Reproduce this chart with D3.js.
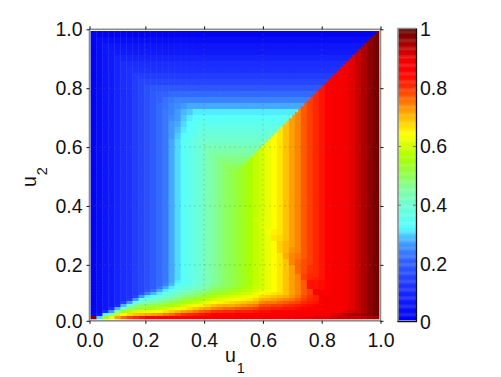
<!DOCTYPE html>
<html>
<head>
<meta charset="utf-8">
<script src="https://cdnjs.cloudflare.com/ajax/libs/d3/7.8.5/d3.min.js"></script>
<style>
  body { margin: 0; background: #fff; }
  text { font-family: "Liberation Sans", Arial, sans-serif; fill: #111; }
</style>
</head>
<body>
<div class="chart"></div>
<script>
// Values, in percent. Rows run from u2 = 1 down to u2 = 0.
var tickValues = [0.01, 0.2, 0.4, 0.6, 0.8, 1];
var xTickLabels = ["0.0", "0.2", "0.4", "0.6", "0.8", "1.0"];
var barTickValues = [0, 0.2, 0.4, 0.6, 0.8, 1];
var barTickLabels = ["0", "0.2", "0.4", "0.6", "0.8", "1"];

// colormap
var colorStops = [0, 0.1, 0.2, 0.25, 0.28, 0.32, 0.4, 0.45, 0.5, 0.56, 0.64, 0.72, 0.8, 0.85, 0.9, 1];
var colorValues = ["#0000f0", "#1a2cff", "#3060ff", "#3c8cff", "#48b8ff", "#55ffff", "#70ffd0", "#80ffa0", "#90ff50", "#aaff00", "#ffff00", "#ffa000", "#ff3000", "#ff0000", "#f00000", "#660000"];

// row height in grid units: the wedge at the bottom is read at double resolution
var coarseRows = 40;
var fineRows = 16;

var midRow = [1,3,5,6,8,10,11,13,15,17,19,21,23,27,30,33,35,38,40,43,45,47,49,50,52,54,56,58,60,62,64,66,69,72,74,77,79,81,83,85,87,88,89,91,93,95,97,99];

var upperRows = [
[1,1,1,1,1,1,1,1,1,1,1,1,1,1,1,1,1,1,1,1,1,1,1,1,1,1,1,1,1,1,1,1,1,1,1,1,1,1,1,1,1,1,1,1,1,1,1,99],
[1,3,3,3,3,3,3,3,3,3,3,3,3,3,3,3,3,3,3,3,3,3,3,3,3,3,3,3,3,3,3,3,3,3,3,3,3,3,3,3,3,3,3,3,3,3,97,99],
[1,3,5,5,5,5,5,5,5,5,5,5,5,5,5,5,5,5,5,5,5,5,5,5,5,5,5,5,5,5,5,5,5,5,5,5,5,5,5,5,5,5,5,5,5,95,97,99],
[1,3,5,6,6,6,6,6,6,6,6,6,6,6,6,6,6,6,6,6,6,6,6,6,6,6,6,6,6,6,6,6,6,6,6,6,6,6,6,6,6,6,6,6,93,95,97,99],
[1,3,5,6,8,8,8,8,8,8,8,8,8,8,8,8,8,8,8,8,8,8,8,8,8,8,8,8,8,8,8,8,8,8,8,8,8,8,8,8,8,8,8,91,93,95,97,99],
[1,3,5,6,8,10,10,10,10,10,10,10,10,10,10,10,10,10,10,10,10,10,10,10,10,10,10,10,10,10,10,10,10,10,10,10,10,10,10,10,10,10,89,91,93,95,97,99],
[1,3,5,6,8,10,11,11,11,11,11,11,11,11,11,11,11,11,11,11,11,11,11,11,11,11,11,11,11,11,11,11,11,11,11,11,11,11,11,11,11,88,89,91,93,95,97,99],
[1,3,5,6,8,10,11,13,13,13,13,13,13,13,13,13,13,13,13,13,13,13,13,13,13,13,13,13,13,13,13,13,13,13,13,13,13,13,13,13,87,88,89,91,93,95,97,99],
[1,3,5,6,8,10,11,13,15,15,15,15,15,15,15,15,15,15,15,15,15,15,15,15,15,15,15,15,15,15,15,15,15,15,15,15,15,15,15,85,87,88,89,91,93,95,97,99],
[1,3,5,6,8,10,11,13,15,17,18,18,18,18,18,18,18,18,18,18,18,18,18,18,18,18,18,18,18,18,18,18,18,18,18,18,18,18,83,85,87,88,89,91,93,95,97,99],
[1,3,5,6,8,10,11,13,15,17,19,20,20,21,21,21,21,21,21,21,21,21,21,21,21,21,21,21,21,21,21,21,21,21,21,21,21,81,83,85,87,88,89,91,93,95,97,99],
[1,3,5,6,8,10,11,13,15,17,19,20,22,23,24,24,24,24,24,24,24,24,24,24,24,24,24,24,24,24,24,24,24,24,24,24,79,81,83,85,87,88,89,91,93,95,97,99],
[1,3,5,6,8,10,11,13,15,17,19,21,22,24,25,26,27,27,27,27,27,27,27,27,27,27,27,27,27,27,27,27,27,27,27,77,79,81,83,85,87,88,89,91,93,95,97,99],
[1,3,5,6,8,10,11,13,15,17,19,21,23,24,26,28,29,31,31,31,31,31,31,31,31,31,31,31,31,31,31,31,31,31,74,77,79,81,83,85,87,88,89,91,93,95,97,99],
[1,3,5,6,8,10,11,13,15,17,19,21,23,25,26,29,31,33,33,33,33,33,33,33,33,33,33,33,33,33,33,33,33,72,74,77,79,81,83,85,87,88,89,91,93,95,97,99],
[1,3,5,6,8,10,11,13,15,17,19,21,23,26,27,30,32,34,35,35,35,35,35,35,35,35,35,35,35,35,35,35,69,72,74,77,79,81,83,85,87,88,89,91,93,95,97,99],
[1,3,5,6,8,10,11,13,15,17,19,21,23,26,28,31,33,35,37,37,37,37,37,37,37,37,37,37,37,37,37,66,69,72,74,77,79,81,83,85,87,88,89,91,93,95,97,99],
[1,3,5,6,8,10,11,13,15,17,19,21,23,26,29,32,34,36,38,39,39,39,39,39,39,39,39,39,39,39,64,66,69,72,74,77,79,81,83,85,87,88,89,91,93,95,97,99],
[1,3,5,6,8,10,11,13,15,17,19,21,23,27,30,33,35,38,40,41,41,41,41,41,41,41,41,41,41,62,64,66,69,72,74,77,79,81,83,85,87,88,89,91,93,95,97,99],
[1,3,5,6,8,10,11,13,15,17,19,21,23,27,30,33,35,38,40,43,43,43,43,43,43,43,43,43,60,62,64,66,69,72,74,77,79,81,83,85,87,88,89,91,93,95,97,99],
[1,3,5,6,8,10,11,13,15,17,19,21,23,27,30,33,35,38,40,43,45,45,45,45,45,45,45,58,60,62,64,66,69,72,74,77,79,81,83,85,87,88,89,91,93,95,97,99],
[1,3,5,6,8,10,11,13,15,17,19,21,23,27,30,33,35,38,40,43,45,47,47,47,47,47,56,58,60,62,64,66,69,72,74,77,79,81,83,85,87,88,89,91,93,95,97,99],
[1,3,5,6,8,10,11,13,15,17,19,21,23,27,30,33,35,38,40,43,45,47,49,49,49,54,56,58,60,62,64,66,69,72,74,77,79,81,83,85,87,88,89,91,93,95,97,99],
midRow, midRow, midRow, midRow, midRow, midRow, midRow, midRow,
[1,3,5,6,8,10,11,13,15,17,19,21,23,27,30,33,35,38,40,43,45,47,49,50,52,54,56,59,60,62,64,66,69,72,74,77,79,81,83,85,87,88,89,91,93,95,97,99],
[1,3,5,6,8,10,11,13,15,17,19,21,23,27,30,33,35,38,40,43,45,47,49,50,52,54,56,58,61,62,64,66,69,72,74,77,79,81,83,85,87,88,89,91,93,95,97,99],
[1,3,5,6,8,10,11,13,15,17,19,21,23,27,30,33,35,38,40,43,45,47,49,50,52,54,56,58,60,63,65,66,69,72,74,77,79,81,83,85,87,88,89,91,93,95,97,99],
[1,3,5,6,8,10,11,13,15,17,19,21,23,27,30,33,35,38,40,43,45,47,49,50,52,54,56,58,60,62,66,67,69,72,74,77,79,81,83,85,87,88,89,91,93,95,97,99],
[1,3,5,6,8,10,11,13,15,17,19,21,23,27,30,33,35,38,40,43,45,47,49,50,52,54,56,58,60,62,64,68,70,72,74,77,79,81,83,85,87,88,89,91,93,95,97,99],
[1,3,5,6,8,10,11,13,15,17,19,21,23,27,30,33,35,38,40,43,45,47,49,50,52,54,56,58,60,62,64,68,70,73,74,77,79,81,83,85,87,88,89,91,93,95,97,99],
[1,3,5,6,8,10,11,13,15,17,19,21,23,27,30,33,35,38,40,43,45,47,49,50,52,54,56,58,60,62,64,66,71,74,75,77,79,81,83,85,87,88,89,91,93,95,97,99],
[1,3,5,6,8,10,11,13,15,17,19,21,23,27,30,33,35,38,40,43,45,47,49,50,52,54,56,58,60,62,64,66,69,74,76,78,79,81,83,85,87,88,89,91,93,95,97,99],
[1,3,5,6,8,10,11,13,15,17,19,21,23,27,30,33,35,38,40,43,45,47,49,50,52,54,56,58,60,62,64,66,69,72,76,78,80,81,83,85,87,88,89,91,93,95,97,99]
];

var wedgeRows = [
[1,3,5,6,8,10,11,13,15,17,19,21,23,27,30,33,35,38,40,43,45,47,49,50,52,54,56,58,60,62,64,66,69,72,76,78,80,81,83,85,87,88,89,91,93,95,97,99],
[1,3,5,6,8,10,11,13,15,17,19,21,23,27,30,33,35,38,40,43,45,47,49,50,52,54,56,58,60,62,64,66,69,72,74,79,81,81,83,85,87,88,89,91,93,95,97,99],
[1,3,5,6,8,10,11,13,15,17,19,21,23,27,30,33,35,38,40,43,45,47,49,50,52,54,56,58,60,62,64,66,69,72,74,79,81,82,83,85,87,88,89,91,93,95,97,99],
[1,3,5,6,8,10,11,13,15,17,19,21,23,27,31,33,35,38,40,43,45,47,49,50,52,54,56,58,60,62,64,66,69,72,74,77,83,83,84,85,87,88,89,91,93,95,97,99],
[1,3,5,6,8,10,11,13,15,17,19,21,24,28,32,35,36,38,41,43,46,47,49,50,52,54,56,58,60,62,64,66,69,72,74,77,83,83,84,85,87,88,89,91,93,95,97,99],
[1,3,5,6,8,10,11,13,15,17,19,23,27,31,35,37,39,41,42,45,48,49,50,51,53,55,57,59,60,62,64,66,69,72,74,77,83,83,84,85,87,88,89,91,93,95,97,99],
[1,3,5,6,8,10,11,13,15,18,22,27,31,34,38,40,42,44,45,48,50,51,52,54,55,57,58,60,62,63,64,66,69,72,74,77,79,85,86,86,87,88,89,91,93,95,97,99],
[1,3,5,6,8,10,11,13,17,24,28,31,36,38,41,43,45,47,48,50,53,54,55,57,58,59,60,62,64,65,66,67,69,72,74,77,79,85,86,86,87,88,89,91,93,95,97,99],
[1,3,5,6,8,10,11,15,26,31,34,37,40,42,45,47,49,50,52,54,57,58,59,60,61,62,63,65,67,68,69,70,71,73,75,78,80,82,87,87,87,88,89,91,93,95,97,99],
[1,3,5,6,8,10,13,26,34,38,40,42,44,46,48,51,52,54,56,58,60,61,62,63,64,65,66,68,70,71,72,73,74,75,77,79,81,82,87,87,87,88,89,91,93,95,97,99],
[1,3,5,6,8,14,26,36,42,44,46,47,49,51,53,55,57,58,60,62,64,65,66,67,68,69,70,71,74,75,75,76,77,78,79,81,82,83,87,87,87,88,89,91,93,95,97,99],
[1,3,5,6,10,28,38,45,48,50,51,52,54,55,57,60,62,63,65,67,69,70,71,71,72,73,74,75,78,78,79,79,80,81,82,83,84,85,85,87,88,88,89,91,93,95,97,99],
[1,3,5,10,28,42,48,52,54,55,56,58,59,61,63,65,67,69,71,72,74,75,76,76,77,78,78,79,81,81,82,82,83,83,84,85,86,86,86,87,88,88,89,91,93,95,97,99],
[1,3,10,26,45,53,57,60,61,62,63,64,66,68,70,72,73,75,77,78,80,80,81,81,82,82,82,83,84,84,85,85,85,86,86,87,87,88,88,88,90,90,91,92,93,95,97,99],
[1,6,32,45,60,64,67,69,70,71,72,73,75,76,78,80,81,82,83,84,85,85,85,85,86,86,86,86,87,87,87,88,88,88,88,88,89,90,90,90,91,92,94,95,95,96,97,99],
[98,30,55,62,72,76,79,81,83,85,85,86,86,86,87,87,87,87,88,88,88,88,88,88,88,88,88,88,88,89,89,89,89,90,90,90,90,91,91,91,92,93,93,93,93,94,95,96]
];

// value just above the upper diagonal, one per coarse row, read at half a cell
var diagonalValues = [1,3,5,6,8,10,11,13,15,18,21,24,27,31,33,35,37,39,41,43,45,47,49];

var svgWidth = 501;
var svgHeight = 377;

var svg = d3.select(".chart").append("svg")
    .attr("width", svgWidth)
    .attr("height", svgHeight)
    .style("display", "block");

// axes scales run from the first grid point, which the ticks label as 0.0
var xScale = d3.scaleLinear().domain([0.01, 1]).range([89.5, 380.5]);
var yScale = d3.scaleLinear().domain([0.01, 1]).range([320.8, 29.3]);
var barScale = d3.scaleLinear().domain([0, 1]).range([322.5, 29.3]);

var colorRamp = d3.scaleLinear().domain(colorStops).range(colorValues).clamp(true);

// heat map cells
var gridX = d3.scaleLinear().domain([0, midRow.length]).range([90.5, 379]);
var gridY = d3.scaleLinear().domain([0, coarseRows * 2 + fineRows]).range([31, 319]);

var cells = [];
upperRows.forEach(function(row, j) {
    row.forEach(function(v, i) {
        cells.push({ i: i, wide: 1, top: j * 2, span: 2, value: v / 100 });
    });
});
wedgeRows.forEach(function(row, j) {
    row.forEach(function(v, i) {
        cells.push({ i: i, wide: 1, top: coarseRows * 2 + j, span: 1, value: v / 100 });
    });
});
// notch the diagonal cells so the stair steps are half a cell
diagonalValues.forEach(function(v, j) {
    cells.push({ i: midRow.length - 1 - j, wide: 0.5, top: j * 2, span: 1, value: v / 100 });
});

svg.append("g").selectAll("rect")
    .data(cells)
    .enter()
    .append("rect")
    .attr("x", d => gridX(d.i))
    .attr("y", d => gridY(d.top))
    .attr("width", d => gridX(d.i + d.wide) - gridX(d.i) + 0.3)
    .attr("height", d => gridY(d.top + d.span) - gridY(d.top) + 0.3)
    .attr("fill", d => colorRamp(d.value));

// dotted grid
var gridGroup = svg.append("g")
    .attr("stroke", "#666")
    .attr("stroke-opacity", 0.55)
    .attr("stroke-dasharray", "1 4");

gridGroup.selectAll(".gx")
    .data(tickValues.slice(1, 5))
    .enter()
    .append("line")
    .attr("x1", d => xScale(d))
    .attr("x2", d => xScale(d))
    .attr("y1", yScale(1))
    .attr("y2", yScale(0.01));

gridGroup.selectAll(".gy")
    .data(tickValues.slice(1, 5))
    .enter()
    .append("line")
    .attr("y1", d => yScale(d))
    .attr("y2", d => yScale(d))
    .attr("x1", xScale(0.01))
    .attr("x2", xScale(1));

// box
svg.append("rect")
    .attr("x", xScale(0.01))
    .attr("y", yScale(1))
    .attr("width", xScale(1) - xScale(0.01))
    .attr("height", yScale(0.01) - yScale(1))
    .attr("fill", "none")
    .attr("stroke", "#8c8c8c")
    .attr("stroke-width", 1.6);

// axes
var bottomAxis = d3.axisBottom(xScale)
    .tickValues(tickValues)
    .tickFormat((d, i) => xTickLabels[i])
    .tickSize(3)
    .tickPadding(9);
var leftAxis = d3.axisLeft(yScale)
    .tickValues(tickValues)
    .tickFormat((d, i) => xTickLabels[i])
    .tickSize(3)
    .tickPadding(4);
var topAxis = d3.axisTop(xScale).tickValues(tickValues).tickFormat("").tickSize(3);
var rightAxis = d3.axisRight(yScale).tickValues(tickValues).tickFormat("").tickSize(3);

function styleAxis(g) {
    g.select(".domain").remove();
    g.selectAll("line").attr("stroke", "#111");
    g.selectAll("text").style("font-size", "19.5px");
}

svg.append("g").attr("transform", `translate(0, ${yScale(0.01)})`).call(bottomAxis).call(styleAxis);
svg.append("g").attr("transform", `translate(${xScale(0.01)}, 0)`).call(leftAxis).call(styleAxis);
svg.append("g").attr("transform", `translate(0, ${yScale(1)})`).call(topAxis).call(styleAxis);
svg.append("g").attr("transform", `translate(${xScale(1)}, 0)`).call(rightAxis).call(styleAxis);

// colorbar
var barLevels = d3.range(256);
var barLevelY = d3.scaleLinear().domain([0, barLevels.length]).range([320, 29]);

svg.append("g").selectAll("rect")
    .data(barLevels)
    .enter()
    .append("rect")
    .attr("x", 398)
    .attr("y", d => barLevelY(d + 1))
    .attr("width", 18)
    .attr("height", d => barLevelY(d) - barLevelY(d + 1) + 0.3)
    .attr("fill", d => colorRamp(d / (barLevels.length - 1)));

svg.append("path")
    .attr("d", "M398,322V28.5H416.5")
    .attr("fill", "none")
    .attr("stroke", "#8c8c8c")
    .attr("stroke-width", 1.6);
svg.append("path")
    .attr("d", "M397.5,321.5H416.5V28.5")
    .attr("fill", "none")
    .attr("stroke", "#111")
    .attr("stroke-width", 1.3);

var barAxis = d3.axisRight(barScale)
    .tickValues(barTickValues)
    .tickFormat((d, i) => barTickLabels[i])
    .tickSize(0)
    .tickPadding(3);
svg.append("g").attr("transform", "translate(417, 0)").call(barAxis).call(styleAxis);

svg.append("g").selectAll("line")
    .data(barTickValues.slice(1, 5))
    .enter()
    .append("line")
    .attr("x1", 398)
    .attr("x2", 401)
    .attr("y1", d => barScale(d))
    .attr("y2", d => barScale(d))
    .attr("stroke", "#777");
svg.append("g").selectAll("line")
    .data(barTickValues.slice(1, 5))
    .enter()
    .append("line")
    .attr("x1", 413)
    .attr("x2", 416)
    .attr("y1", d => barScale(d))
    .attr("y2", d => barScale(d))
    .attr("stroke", "#777");

// axis titles
var xTitle = svg.append("text")
    .attr("x", 225)
    .attr("y", 362)
    .style("font-size", "19.5px")
    .text("u");
xTitle.append("tspan")
    .attr("dy", 11)
    .attr("dx", 1)
    .style("font-size", "14.5px")
    .text("1");

var yTitle = svg.append("text")
    .attr("transform", "translate(36, 187) rotate(-90)")
    .style("font-size", "19.5px")
    .text("u");
yTitle.append("tspan")
    .attr("dy", 11)
    .attr("dx", 1)
    .style("font-size", "14.5px")
    .text("2");
</script>
</body>
</html>
